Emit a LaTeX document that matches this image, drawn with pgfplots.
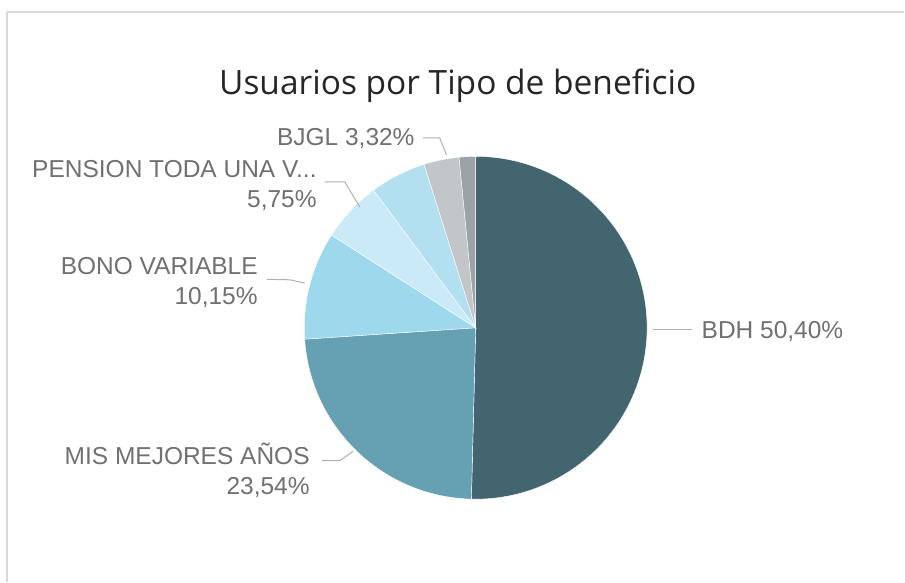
\documentclass[border=0pt]{standalone}
\usepackage{fontspec}
\setmainfont{Liberation Sans}
\newfontfamily\titlefont{Open Sans}
\usepackage{pgfplots}
\usepackage{pgfplotstable}
\pgfplotsset{compat=1.18}

\definecolor{cBDH}{HTML}{43656F}
\definecolor{cMis}{HTML}{65A0B3}
\definecolor{cBono}{HTML}{9ED8ED}
\definecolor{cPens}{HTML}{C9EAF6}
\definecolor{cOtro}{HTML}{B2E0F0}
\definecolor{cBJGL}{HTML}{C2C6C8}
\definecolor{cResto}{HTML}{9CA3A6}
\definecolor{labelgray}{HTML}{707070}
\definecolor{leadergray}{HTML}{B0B0B0}

% share of users (%), clockwise from 12 o'clock
\pgfplotstableread[col sep=comma]{
share,color
50.40,cBDH
23.54,cMis
10.15,cBono
5.75,cPens
5.29,cOtro
3.32,cBJGL
1.55,cResto
}\pietable

\begin{document}
\begin{tikzpicture}
\begin{axis}[
    width=905pt, height=582pt, scale only axis,
    xmin=0, xmax=905, ymin=0, ymax=582,
    hide axis, clip=false,
]
\path (axis cs:0,0) rectangle (axis cs:905,582);

% frame
\draw[line width=1.2pt, color=black!15] (axis cs:7,0) -- (axis cs:7,570) -- (axis cs:905,570);

% slices
\def\cum{0}
\pgfplotsforeachungrouped \i in {0,...,6}{%
    \pgfplotstablegetelem{\i}{share}\of\pietable
    \let\v\pgfplotsretval
    \pgfplotstablegetelem{\i}{color}\of\pietable
    \let\c\pgfplotsretval
    \pgfmathsetmacro\a{90-3.6*\cum}
    \pgfmathsetmacro\b{90-3.6*(\cum+\v)}
    \pgfmathsetmacro\newcum{\cum+\v}
    \xdef\cum{\newcum}
    \edef\temp{\noexpand\fill[\c, draw=white, line width=0.4pt]
        (axis cs:476,254) -- ++(\a:171.5pt)
        arc[start angle=\a, end angle=\b, radius=171.5pt] -- cycle;}
    \temp
}

% title
\node[anchor=base, font=\titlefont\fontsize{33.5}{38}\selectfont, text=black!85]
    at (axis cs:458,487) {Usuarios por Tipo de beneficio};

% leader lines
\begin{scope}[line width=1pt, color=leadergray]
\draw (axis cs:423,444) -- (axis cs:440,444) -- (axis cs:446.7,427);
\draw (axis cs:325,400) -- (axis cs:345,400) -- (axis cs:360,375);
\draw (axis cs:267,302.5) -- (axis cs:290,302) -- (axis cs:305,298.7);
\draw (axis cs:322,121) -- (axis cs:340,121) -- (axis cs:353.3,130.3);
\draw (axis cs:653,252) -- (axis cs:692,252);
\end{scope}

% labels
\begin{scope}[every node/.style={font=\fontsize{24.5}{29}\selectfont, text=labelgray, inner sep=0pt}]
\node[anchor=base east] at (axis cs:415,436) {BJGL 3,32\%};
\node[anchor=base east] at (axis cs:317,404) {PENSION TODA UNA V...};
\node[anchor=base east] at (axis cs:317,374) {5,75\%};
\node[anchor=base east] at (axis cs:258,307) {BONO VARIABLE};
\node[anchor=base east] at (axis cs:258,277) {10,15\%};
\node[anchor=base east] at (axis cs:310,117) {MIS MEJORES AÑOS};
\node[anchor=base east] at (axis cs:310,87) {23,54\%};
\node[anchor=base west] at (axis cs:702,243) {BDH 50,40\%};
\end{scope}
\end{axis}
\end{tikzpicture}
\end{document}
